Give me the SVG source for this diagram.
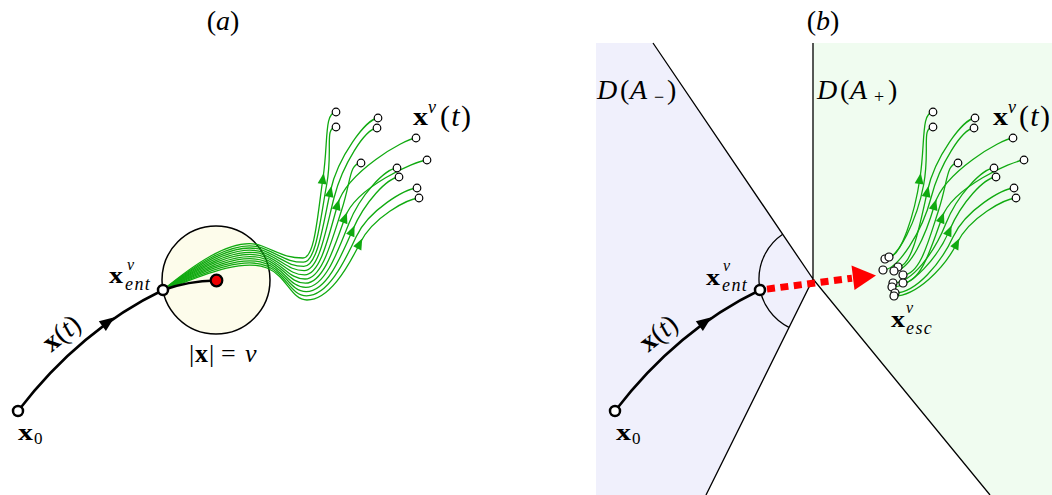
<svg xmlns="http://www.w3.org/2000/svg" xmlns:xlink="http://www.w3.org/1999/xlink" width="1052" height="495" viewBox="0 0 1052 495">
<style>
.g{fill:none;stroke:#10aa10;stroke-width:1.3}
.pt{fill:#fff;stroke:#000;stroke-width:1.2}
.big{fill:#fff;stroke:#000;stroke-width:2.5}
.tr{fill:none;stroke:#000;stroke-width:2.5}
.bd{fill:none;stroke:#000;stroke-width:1.3}
.t{font-family:"Liberation Serif","DejaVu Serif",serif;fill:#000}
.b{font-weight:bold}
.i{font-style:italic}
</style>
<defs>
<path id="ga" d="M5,0 L-6,-4.5 L-6,4.5 Z" fill="#10aa10"/>
<path id="ba" d="M8,0 L-7,-6 L-7,6 Z" fill="#000"/>
</defs>
<rect width="1052" height="495" fill="#fff"/>

<g id="regions">
<polygon points="596,43 653,43 813,279 706,495 596,495" fill="#f0f0fc"/>
<polygon points="813,43 1052,43 1052,495 990,495 813,279" fill="#f0fcf0"/>
<path class="bd" d="M653,43 L813,279 L706,495 M813,43 L813,279 L990,495"/>
<path class="bd" d="M782.7,234.3 A54,54 0 0 0 789,327.4"/>
</g>

<g id="ball-a">
<circle cx="216" cy="280" r="54" fill="#fdfceb" stroke="#000" stroke-width="1.5"/>
</g>

<g id="connectors">
<path class="g" d="M163,290 C185,272 232,234 262,246 C282,254 287,258 303,258 C315,258 317.6,214 323,178 S324,113 336,112"/>
<path class="g" d="M163,290 C185,273.2 232.5,236.2 262.5,248.2 C282.5,256.2 287.4,262.2 303.4,262.2 C316.4,262.2 320.2,219.5 326.7,184.5 S324,128 336,127"/>
<path class="g" d="M163,290 C185,274.4 233,238.4 263,250.4 C283,258.4 287.8,266.4 303.8,266.4 C317.8,266.4 322.9,224.9 330.4,191 S366,119 378,118"/>
<path class="g" d="M163,290 C185,275.6 233.5,240.6 263.5,252.6 C283.5,260.6 288.2,270.6 304.2,270.6 C319.2,270.6 325.7,230.4 334.1,197.5 S365,129 377,128"/>
<path class="g" d="M163,290 C185,276.8 234,242.8 264,254.8 C284,262.8 288.6,274.8 304.6,274.8 C320.6,274.8 328.6,235.9 337.8,204 S404,139 416,138"/>
<path class="g" d="M163,290 C185,278 234.5,245 264.5,257 C284.5,265 289,279 305,279 C322,279 331.5,241.3 341.5,210.5 S349,164 361,163"/>
<path class="g" d="M163,290 C185,279.2 235,247.2 265,259.2 C285,267.2 289.4,283.2 305.4,283.2 C323.4,283.2 334.5,246.8 345.2,217 S415,161 427,160"/>
<path class="g" d="M163,290 C185,280.4 235.5,249.4 265.5,261.4 C285.5,269.4 289.8,287.4 305.8,287.4 C324.8,287.4 337.5,252.3 348.9,223.5 S385,169 397,168"/>
<path class="g" d="M163,290 C185,281.6 236,251.6 266,263.6 C286,271.6 290.2,291.6 306.2,291.6 C326.2,291.6 340.7,257.7 352.6,230 S387,178 399,177"/>
<path class="g" d="M163,290 C185,282.8 236.5,253.8 266.5,265.8 C286.5,273.8 290.6,295.8 306.6,295.8 C327.6,295.8 343.9,263.2 356.3,236.5 S405,189 417,188"/>
<path class="g" d="M163,290 C185,284 237,256 267,268 C287,276 291,300 307,300 C329,300 347.2,268.7 360,243 S407,199 419,198"/>
<use xlink:href="#ga" href="#ga" transform="translate(323,178) rotate(-81.5)"/>
<use xlink:href="#ga" href="#ga" transform="translate(330.4,191) rotate(-77.6)"/>
<use xlink:href="#ga" href="#ga" transform="translate(337.8,204) rotate(-73.8)"/>
<use xlink:href="#ga" href="#ga" transform="translate(345.2,217) rotate(-70.2)"/>
<use xlink:href="#ga" href="#ga" transform="translate(352.6,230) rotate(-66.7)"/>
<use xlink:href="#ga" href="#ga" transform="translate(360,243) rotate(-63.4)"/>

<path class="tr" d="M18,411 Q80,330 163,290"/>
<use xlink:href="#ba" href="#ba" transform="translate(108,322) rotate(-36)"/>
<path class="tr" d="M163,290 Q188,281 216,280.5"/>

<path class="tr" d="M615,411 Q677,330 760,290"/>
<use xlink:href="#ba" href="#ba" transform="translate(705,322) rotate(-36)"/>

<path d="M767,289.1 L852,278.2" fill="none" stroke="#ff0000" stroke-width="7" stroke-dasharray="8 5.5"/>
<polygon points="876,275.5 851.5,265.5 854.5,290" fill="#ff0000"/>

<path class="g" d="M889,257 C901,257 914.6,214 920,178 S921,113 933,112"/>
<path class="g" d="M885,259 C898,259 917.2,219.5 923.7,184.5 S921,128 933,127"/>
<path class="g" d="M898,267 C912,267 919.9,224.9 927.4,191 S963,119 975,118"/>
<path class="g" d="M883,270 C898,270 922.7,230.4 931.1,197.5 S962,129 974,128"/>
<path class="g" d="M894,271 C910,271 925.6,235.9 934.8,204 S1001,139 1013,138"/>
<path class="g" d="M903,275 C920,275 928.5,241.3 938.5,210.5 S946,164 958,163"/>
<path class="g" d="M903,283 C921,283 931.5,246.8 942.2,217 S1012,161 1024,160"/>
<path class="g" d="M893,283 C912,283 934.5,252.3 945.9,223.5 S982,169 994,168"/>
<path class="g" d="M892,287 C912,287 937.7,257.7 949.6,230 S984,178 996,177"/>
<path class="g" d="M895,293 C916,293 940.9,263.2 953.3,236.5 S1002,189 1014,188"/>
<path class="g" d="M894,296 C916,296 944.2,268.7 957,243 S1004,199 1016,198"/>
<use xlink:href="#ga" href="#ga" transform="translate(920,178) rotate(-81.5)"/>
<use xlink:href="#ga" href="#ga" transform="translate(927.4,191) rotate(-77.6)"/>
<use xlink:href="#ga" href="#ga" transform="translate(934.8,204) rotate(-73.8)"/>
<use xlink:href="#ga" href="#ga" transform="translate(942.2,217) rotate(-70.2)"/>
<use xlink:href="#ga" href="#ga" transform="translate(949.6,230) rotate(-66.7)"/>
<use xlink:href="#ga" href="#ga" transform="translate(957,243) rotate(-63.4)"/>
</g>

<g id="origin-a"><circle cx="216.5" cy="280.5" r="5.8" fill="#ee0000" stroke="#000" stroke-width="2.2"/></g>
<g id="xent-a"><circle class="big" cx="163" cy="290" r="5"/></g>
<g id="x0-a"><circle class="big" cx="18" cy="411" r="5"/></g>
<g id="ends-a">
<circle class="pt" cx="336" cy="112" r="3.8"/><circle class="pt" cx="336" cy="127" r="3.8"/>
<circle class="pt" cx="378" cy="118" r="3.8"/><circle class="pt" cx="377" cy="128" r="3.8"/>
<circle class="pt" cx="416" cy="138" r="3.8"/><circle class="pt" cx="361" cy="163" r="3.8"/>
<circle class="pt" cx="427" cy="160" r="3.8"/><circle class="pt" cx="397" cy="168" r="3.8"/>
<circle class="pt" cx="399" cy="177" r="3.8"/><circle class="pt" cx="417" cy="188" r="3.8"/>
<circle class="pt" cx="419" cy="198" r="3.8"/>
</g>

<g id="xent-b"><circle class="big" cx="760" cy="290" r="5"/></g>
<g id="x0-b"><circle class="big" cx="615" cy="411" r="5"/></g>
<g id="esc-b">
<circle class="pt" cx="885" cy="259" r="4"/><circle class="pt" cx="889" cy="257" r="4"/>
<circle class="pt" cx="883" cy="270" r="4"/><circle class="pt" cx="898" cy="267" r="4"/>
<circle class="pt" cx="894" cy="271" r="4"/><circle class="pt" cx="903" cy="275" r="4"/>
<circle class="pt" cx="903" cy="283" r="4"/><circle class="pt" cx="893" cy="283" r="4"/>
<circle class="pt" cx="892" cy="287" r="4"/><circle class="pt" cx="895" cy="293" r="4"/>
<circle class="pt" cx="894" cy="296" r="4"/>
</g>
<g id="ends-b">
<circle class="pt" cx="933" cy="112" r="3.8"/><circle class="pt" cx="933" cy="127" r="3.8"/>
<circle class="pt" cx="975" cy="118" r="3.8"/><circle class="pt" cx="974" cy="128" r="3.8"/>
<circle class="pt" cx="1013" cy="138" r="3.8"/><circle class="pt" cx="958" cy="163" r="3.8"/>
<circle class="pt" cx="1024" cy="160" r="3.8"/><circle class="pt" cx="994" cy="168" r="3.8"/>
<circle class="pt" cx="996" cy="177" r="3.8"/><circle class="pt" cx="1014" cy="188" r="3.8"/>
<circle class="pt" cx="1016" cy="198" r="3.8"/>
</g>

<g id="labels">
<text class="t" x="223" y="30" text-anchor="middle" font-size="28">(<tspan class="i">a</tspan>)</text>
<text class="t" x="823" y="30" text-anchor="middle" font-size="28">(<tspan class="i">b</tspan>)</text>

<text class="t b" x="413" y="125" font-size="25" textLength="15" lengthAdjust="spacingAndGlyphs">x</text>
<text class="t i" x="428" y="113" font-size="18">ν</text>
<text class="t" x="440" y="126" font-size="30" textLength="31">(<tspan class="i">t</tspan>)</text>

<text class="t b" x="993" y="125" font-size="25" textLength="15" lengthAdjust="spacingAndGlyphs">x</text>
<text class="t i" x="1008" y="113" font-size="18">ν</text>
<text class="t" x="1019" y="126" font-size="30" textLength="31">(<tspan class="i">t</tspan>)</text>

<text class="t b" x="109" y="283" font-size="24" textLength="14" lengthAdjust="spacingAndGlyphs">x</text>
<text class="t i" x="127" y="270" font-size="16">ν</text>
<text class="t i" x="125" y="290" font-size="18" letter-spacing="1.4">ent</text>

<text class="t b" x="706" y="285" font-size="24" textLength="14" lengthAdjust="spacingAndGlyphs">x</text>
<text class="t i" x="723" y="271" font-size="16">ν</text>
<text class="t i" x="722" y="291" font-size="18" letter-spacing="1.4">ent</text>

<text class="t b" x="891" y="327" font-size="24" textLength="14" lengthAdjust="spacingAndGlyphs">x</text>
<text class="t i" x="906" y="313" font-size="16">ν</text>
<text class="t i" x="906" y="334" font-size="18" letter-spacing="1.4">esc</text>

<text class="t" y="362" font-size="26"><tspan x="189">|</tspan><tspan x="195" class="b">x</tspan><tspan x="209">|</tspan><tspan x="221">=</tspan><tspan x="245" class="i">ν</tspan></text>

<text class="t b" x="18" y="440" font-size="24" textLength="15" lengthAdjust="spacingAndGlyphs">x</text>
<text class="t" x="34" y="444" font-size="17">0</text>
<text class="t b" x="616" y="440" font-size="24" textLength="15" lengthAdjust="spacingAndGlyphs">x</text>
<text class="t" x="632" y="444" font-size="17">0</text>

<text class="t" font-size="28" text-anchor="middle" transform="translate(67,340) rotate(-39)"><tspan class="b">x</tspan>(<tspan class="i">t</tspan>)</text>
<text class="t" font-size="28" text-anchor="middle" transform="translate(664,340) rotate(-39)"><tspan class="b">x</tspan>(<tspan class="i">t</tspan>)</text>

<text class="t" y="99" font-size="28"><tspan x="597" class="i">D</tspan><tspan x="620">(</tspan><tspan x="630" class="i">A</tspan><tspan x="654" y="103" font-size="18">−</tspan><tspan x="667" y="99">)</tspan></text>
<text class="t" y="99" font-size="28"><tspan x="817" class="i">D</tspan><tspan x="840">(</tspan><tspan x="850" class="i">A</tspan><tspan x="874" y="103" font-size="18">+</tspan><tspan x="888" y="99">)</tspan></text>
</g>
</svg>
